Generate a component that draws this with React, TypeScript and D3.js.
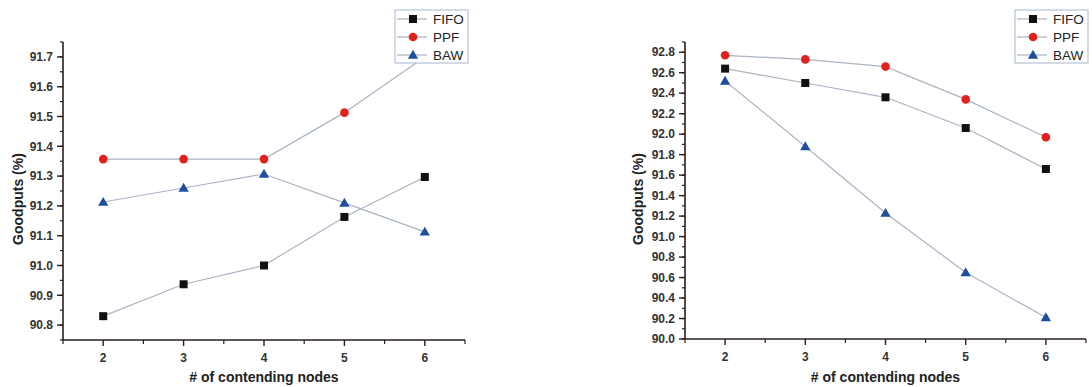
import React from 'react';
import { scaleLinear, line, format, symbol, symbolTriangle } from 'd3';

// x values and series
const nodes = [2, 3, 4, 5, 6];
const xTicks = [2, 3, 4, 5, 6];
const xMinor = [1.5, 2.5, 3.5, 4.5, 5.5, 6.5];

const fifoA = [90.83, 90.937, 91.0, 91.163, 91.297];
const ppfA = [91.357, 91.357, 91.357, 91.513, 91.7];
const bawA = [91.213, 91.26, 91.307, 91.21, 91.113];

const fifoB = [92.64, 92.5, 92.36, 92.06, 91.66];
const ppfB = [92.77, 92.73, 92.66, 92.34, 91.97];
const bawB = [92.52, 91.88, 91.23, 90.65, 90.21];

const seriesNames = ['FIFO', 'PPF', 'BAW'];
const colors = ['#111111', '#e3211c', '#1d4f9e'];
const lineColor = '#a9b4c3';
const axisColor = '#2a1f1c';
const font = '"Liberation Sans", Arial, sans-serif';

const fmt = format('.1f');

type PanelProps = {
  x0: number; x1: number; y0: number; y1: number;
  yDomain: [number, number];
  majorCount: number; minorCount: number;
  series: number[][];
  legendX: number;
  yLabelX: number;
};

const Marker = ({ kind, x, y, color }: { kind: number; x: number; y: number; color: string }) => {
  if (kind === 0) return <rect x={x - 4} y={y - 4} width={8} height={8} fill={color} />;
  if (kind === 1) return <circle cx={x} cy={y} r={4.3} fill={color} />;
  return <path d={symbol().type(symbolTriangle).size(46)() as string} transform={`translate(${x},${y + 0.8})`} fill={color} />;
};

const Panel = (p: PanelProps) => {
  const xScale = scaleLinear().domain([1.5, 6.5]).range([p.x0, p.x1]);
  const yScale = scaleLinear().domain(p.yDomain).range([p.y0, p.y1]);
  const majors = yScale.ticks(p.majorCount);
  const minors = yScale.ticks(p.minorCount);
  const d3Line = line<number>().x((d, i) => xScale(nodes[i])).y((d) => yScale(d));
  const midX = (p.x0 + p.x1) / 2;
  const lx = p.legendX, ly = 10;

  return (
    <g>
      {/* series lines */}
      {p.series.map((s, k) => (
        <path key={'l' + k} d={d3Line(s) as string} fill="none" stroke={lineColor} strokeWidth={1.2} />
      ))}
      {p.series.map((s, k) => s.map((v, i) => (
        <Marker key={`m${k}-${i}`} kind={k} x={xScale(nodes[i])} y={yScale(v)} color={colors[k]} />
      )))}

      {/* y axis */}
      <line x1={p.x0} x2={p.x0} y1={p.y0} y2={p.y1} stroke={axisColor} strokeWidth={1.6} />
      {minors.map((t) => (
        <line key={'ym' + t} x1={p.x0 - 3} x2={p.x0} y1={yScale(t)} y2={yScale(t)} stroke={axisColor} strokeWidth={1.2} />
      ))}
      {majors.map((t) => (
        <g key={'y' + t}>
          <line x1={p.x0 - 6} x2={p.x0} y1={yScale(t)} y2={yScale(t)} stroke={axisColor} strokeWidth={1.4} />
          <text x={p.x0 - 10} y={yScale(t)} dy="0.35em" textAnchor="end" fontSize={12} fontWeight="bold" fill="#333">
            {fmt(t)}
          </text>
        </g>
      ))}

      {/* x axis */}
      <line x1={p.x0} x2={p.x1} y1={p.y0} y2={p.y0} stroke={axisColor} strokeWidth={1.6} />
      {xMinor.map((t) => (
        <line key={'xm' + t} x1={xScale(t)} x2={xScale(t)} y1={p.y0} y2={p.y0 + 4} stroke={axisColor} strokeWidth={1.2} />
      ))}
      {xTicks.map((t) => (
        <g key={'x' + t}>
          <line x1={xScale(t)} x2={xScale(t)} y1={p.y0} y2={p.y0 + 6} stroke={axisColor} strokeWidth={1.4} />
          <text x={xScale(t)} y={p.y0 + 22} textAnchor="middle" fontSize={12} fontWeight="bold" fill="#333">{t}</text>
        </g>
      ))}

      <text x={midX} y={382} textAnchor="middle" fontSize={14} fontWeight="bold" fill="#222"># of contending nodes</text>
      <text transform={`translate(${p.yLabelX},199) rotate(-90)`} textAnchor="middle" dy="0.35em" fontSize={14} fontWeight="bold" fill="#222">
        Goodputs (%)
      </text>

      {/* legend */}
      <rect x={lx} y={ly} width={73} height={53} fill="#fff" stroke="#a7b7cf" strokeWidth={1} />
      {seriesNames.map((n, k) => {
        const yy = ly + 9 + k * 18;
        return (
          <g key={'lg' + n}>
            <line x1={lx + 2} x2={lx + 32} y1={yy} y2={yy} stroke={lineColor} strokeWidth={1.2} />
            <Marker kind={k} x={lx + 18} y={yy} color={colors[k]} />
            <text x={lx + 38} y={yy} dy="0.35em" fontSize={13.5} fill="#222">{n}</text>
          </g>
        );
      })}
    </g>
  );
};

export default function App() {
  return (
    <svg width={1092} height={387} style={{ position: 'absolute', left: 0, top: 0, background: '#fff', fontFamily: font }}>
      <rect width={1092} height={387} fill="#fff" />
      <Panel x0={63} x1={465} y0={340} y1={42} yDomain={[90.75, 91.75]} majorCount={10} minorCount={20}
        series={[fifoA, ppfA, bawA]} legendX={395} yLabelX={18} />
      <Panel x0={685} x1={1086} y0={339} y1={42} yDomain={[90.0, 92.9]} majorCount={15} minorCount={30}
        series={[fifoB, ppfB, bawB]} legendX={1015} yLabelX={638} />
    </svg>
  );
}
